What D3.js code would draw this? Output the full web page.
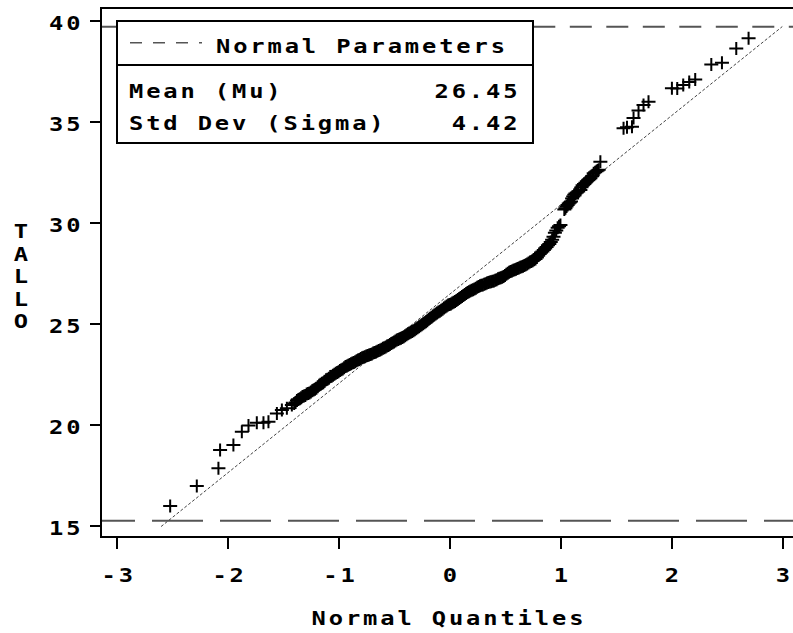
<!DOCTYPE html>
<html>
<head>
<meta charset="utf-8">
<script src="https://d3js.org/d3.v7.min.js"></script>
<style>
	body { margin: 0; background: #fff; }
	text { font-family: "DejaVu Sans Mono", monospace; font-weight: bold; font-size: 19px; letter-spacing: 2.3px; fill: #000; }
</style>
</head>
<body>
<div id="chart"></div>
<script>
// normal quantiles (x)
var quantiles = [
	-2.518, -2.278, -2.083, -2.068, -1.948, -1.872, -1.812, -1.737, -1.677, -1.632,
	-1.556, -1.511, -1.466, -1.421,
	-1.4000, -1.3875, -1.3750, -1.3625, -1.3500, -1.3375, -1.3250, -1.3125,
	-1.3000, -1.2875, -1.2750, -1.2625, -1.2500, -1.2375, -1.2250, -1.2125,
	-1.2000, -1.1875, -1.1750, -1.1625, -1.1500, -1.1375, -1.1250, -1.1125,
	-1.1000, -1.0875, -1.0750, -1.0625, -1.0500, -1.0375, -1.0250, -1.0125,
	-1.0000, -0.9875, -0.9750, -0.9625, -0.9500, -0.9375, -0.9250, -0.9125,
	-0.9000, -0.8875, -0.8750, -0.8625, -0.8500, -0.8375, -0.8250, -0.8125,
	-0.8000, -0.7875, -0.7750, -0.7625, -0.7500, -0.7375, -0.7250, -0.7125,
	-0.7000, -0.6875, -0.6750, -0.6625, -0.6500, -0.6375, -0.6250, -0.6125,
	-0.6000, -0.5875, -0.5750, -0.5625, -0.5500, -0.5375, -0.5250, -0.5125,
	-0.5000, -0.4875, -0.4750, -0.4625, -0.4500, -0.4375, -0.4250, -0.4125,
	-0.4000, -0.3875, -0.3750, -0.3625, -0.3500, -0.3375, -0.3250, -0.3125,
	-0.3000, -0.2875, -0.2750, -0.2625, -0.2500, -0.2375, -0.2250, -0.2125,
	-0.2000, -0.1875, -0.1750, -0.1625, -0.1500, -0.1375, -0.1250, -0.1125,
	-0.1000, -0.0875, -0.0750, -0.0625, -0.0500, -0.0375, -0.0250, -0.0125,
	0.0000, 0.0125, 0.0250, 0.0375, 0.0500, 0.0625, 0.0750, 0.0875,
	0.1000, 0.1125, 0.1250, 0.1375, 0.1500, 0.1625, 0.1750, 0.1875,
	0.2000, 0.2125, 0.2250, 0.2375, 0.2500, 0.2625, 0.2750, 0.2875,
	0.3000, 0.3125, 0.3250, 0.3375, 0.3500, 0.3625, 0.3750, 0.3875,
	0.4000, 0.4125, 0.4250, 0.4375, 0.4500, 0.4625, 0.4750, 0.4875,
	0.5000, 0.5125, 0.5250, 0.5375, 0.5500, 0.5625, 0.5750, 0.5875,
	0.6000, 0.6125, 0.6250, 0.6375, 0.6500, 0.6625, 0.6750, 0.6875,
	0.7000, 0.7125, 0.7250, 0.7375, 0.7500, 0.7625, 0.7750, 0.7875,
	0.8000, 0.8125, 0.8250, 0.8375, 0.8500, 0.8625, 0.8750, 0.8875,
	0.9000, 0.9125, 0.9250, 0.9375, 0.9500, 0.9625, 0.9750, 0.9875,
	1.0000,
	1.035, 1.045, 1.055, 1.065, 1.075, 1.085, 1.095, 1.105, 1.115, 1.125,
	1.135, 1.148, 1.160, 1.180, 1.190, 1.200, 1.213, 1.225, 1.238, 1.250,
	1.260, 1.270, 1.285, 1.300, 1.313, 1.325, 1.335, 1.345, 1.360,
	1.569, 1.600, 1.645, 1.659, 1.704, 1.749, 1.794, 2.005, 2.053, 2.107,
	2.161, 2.215, 2.360, 2.456, 2.585, 2.696
];

// TALLO values (y)
var tallo = [
	15.98, 16.97, 17.84, 18.75, 19.00, 19.65, 19.96, 20.10, 20.10, 20.15,
	20.56, 20.73, 20.81, 20.98,
	21.05, 21.10, 21.20, 21.25, 21.28, 21.33, 21.40, 21.42,
	21.45, 21.52, 21.55, 21.57, 21.62, 21.68, 21.72, 21.75,
	21.80, 21.88, 21.95, 22.00, 22.05, 22.08, 22.15, 22.22,
	22.25, 22.30, 22.38, 22.40, 22.45, 22.50, 22.55, 22.58,
	22.62, 22.68, 22.72, 22.76, 22.82, 22.88, 22.91, 22.94,
	22.98, 23.02, 23.05, 23.08, 23.12, 23.17, 23.20, 23.23,
	23.28, 23.31, 23.34, 23.37, 23.40, 23.42, 23.45, 23.48,
	23.50, 23.55, 23.58, 23.60, 23.64, 23.67, 23.70, 23.74,
	23.78, 23.81, 23.85, 23.89, 23.92, 23.97, 24.02, 24.06,
	24.10, 24.14, 24.19, 24.22, 24.25, 24.28, 24.32, 24.36,
	24.40, 24.45, 24.50, 24.54, 24.58, 24.62, 24.65, 24.70,
	24.75, 24.80, 24.85, 24.90, 24.95, 25.00, 25.05, 25.10,
	25.15, 25.22, 25.27, 25.32, 25.38, 25.43, 25.48, 25.53,
	25.58, 25.62, 25.67, 25.72, 25.78, 25.83, 25.88, 25.92,
	25.95, 25.98, 26.02, 26.06, 26.10, 26.15, 26.20, 26.25,
	26.30, 26.35, 26.40, 26.45, 26.50, 26.54, 26.58, 26.62,
	26.65, 26.68, 26.72, 26.76, 26.80, 26.84, 26.88, 26.90,
	26.92, 26.95, 26.98, 27.01, 27.04, 27.06, 27.08, 27.10,
	27.12, 27.15, 27.18, 27.22, 27.25, 27.27, 27.30, 27.34,
	27.38, 27.45, 27.50, 27.55, 27.58, 27.61, 27.64, 27.67,
	27.70, 27.73, 27.76, 27.79, 27.82, 27.85, 27.88, 27.92,
	27.95, 28.00, 28.05, 28.08, 28.12, 28.16, 28.20, 28.28,
	28.38, 28.45, 28.52, 28.58, 28.65, 28.72, 28.80, 28.88,
	28.95, 29.05, 29.15, 29.30, 29.50, 29.62, 29.75, 29.82,
	29.88,
	30.65, 30.72, 30.80, 30.88, 30.95, 31.00, 31.05, 31.20, 31.30, 31.38,
	31.45, 31.50, 31.55, 31.62, 31.75, 31.85, 31.92, 31.98, 32.05, 32.10,
	32.15, 32.20, 32.30, 32.45, 32.50, 32.55, 32.58, 32.62, 33.02,
	34.67, 34.72, 34.75, 35.18, 35.55, 35.83, 35.99, 36.65, 36.64, 36.82,
	36.97, 37.09, 37.83, 37.92, 38.62, 39.13
];

// tick labels
var xTicks = [-3, -2, -1, 0, 1, 2, 3];
var yTicks = [15, 20, 25, 30, 35, 40];

// fitted normal parameters and reference lines
var mu = 26.45;
var sigma = 4.42;
var refQuantiles = [-2.6, 3.0];
var hLines = [15.25, 39.7];
var legendRows = [["Mean (Mu)", "26.45"], ["Std Dev (Sigma)", "4.42"]];

var sx = 1.25; //the old sas font is wider than dejavu mono, stretch it
var ls = 2.3 * sx; //trailing letter spacing on screen

//put a text at tx,ty and stretch it sideways
function place(sel, tx, ty) {
	sel.attr("x", 0).attr("y", 0).attr("dy", 0)
		.attr("transform", function(d, i) {
			var px = typeof tx === "function" ? tx(d, i) : tx;
			var py = typeof ty === "function" ? ty(d, i) : ty;
			return "translate(" + px + "," + py + ") scale(" + sx + ",1)";
		});
}

function drawChart() {
	var width = 793;
	var height = 633;

	var svg = d3.select("#chart").append("svg")
		.attr("width", width)
		.attr("height", height);

	var x = d3.scaleLinear().domain([-3, 3]).range([116.7, 782.3]);
	var y = d3.scaleLinear().domain([15, 40]).range([525.7, 20.7]);

	var frameLeft = 101;
	var frameTop = 8.3;
	var frameBottom = 537.3;

	//horizontal dashed lines
	svg.append("line")
		.attr("x1", frameLeft).attr("x2", width)
		.attr("y1", y(hLines[0])).attr("y2", y(hLines[0]))
		.style("stroke", "#555").style("stroke-width", 2)
		.style("stroke-dasharray", "51 17").style("stroke-dashoffset", 17);

	svg.append("line")
		.attr("x1", frameLeft).attr("x2", width)
		.attr("y1", y(hLines[1])).attr("y2", y(hLines[1]))
		.style("stroke", "#555").style("stroke-width", 2)
		.style("stroke-dasharray", "22 14.5").style("stroke-dashoffset", 5.7);

	//fitted reference line
	svg.append("line")
		.attr("x1", x(refQuantiles[0])).attr("y1", y(mu + sigma * refQuantiles[0]))
		.attr("x2", x(refQuantiles[1])).attr("y2", y(mu + sigma * refQuantiles[1]))
		.style("stroke", "#444").style("stroke-width", 1)
		.style("stroke-dasharray", "3 2");

	//plus markers
	svg.append("g").selectAll("path")
		.data(quantiles)
		.enter().append("path")
		.attr("transform", function(d, i) { return "translate(" + x(d) + "," + y(tallo[i]) + ")"; })
		.attr("d", "M-7,0H7M0,-6.5V6.5")
		.style("stroke", "#000")
		.style("stroke-width", 2)
		.style("fill", "none");

	//legend box
	var legend = svg.append("g");
	legend.append("rect")
		.attr("x", 116.7).attr("y", 20.7)
		.attr("width", 416).attr("height", 122.6)
		.style("fill", "#fff").style("stroke", "#000").style("stroke-width", 2)
		.attr("shape-rendering", "crispEdges");
	legend.append("line")
		.attr("x1", 116.7).attr("x2", 532.7)
		.attr("y1", 64.7).attr("y2", 64.7)
		.style("stroke", "#000").style("stroke-width", 2)
		.attr("shape-rendering", "crispEdges");
	legend.append("line")
		.attr("x1", 130).attr("x2", 202)
		.attr("y1", 42.7).attr("y2", 42.7)
		.style("stroke", "#555").style("stroke-width", 1.5)
		.style("stroke-dasharray", "12 11");
	place(legend.append("text").text("Normal Parameters"), 216, 53.3);
	place(legend.selectAll(".lab")
		.data(legendRows)
		.enter().append("text")
		.text(function(d) { return d[0]; }),
		129, function(d, i) { return 98 + i * 32; });
	place(legend.selectAll(".val")
		.data(legendRows)
		.enter().append("text")
		.attr("text-anchor", "end")
		.text(function(d) { return d[1]; }),
		517.5 + ls, function(d, i) { return 98 + i * 32; });

	//frame
	svg.append("rect")
		.attr("x", frameLeft).attr("y", frameTop)
		.attr("width", 800).attr("height", frameBottom - frameTop)
		.style("fill", "none").style("stroke", "#000").style("stroke-width", 2)
		.attr("shape-rendering", "crispEdges");

	//y axis
	var yAxis = svg.append("g")
		.attr("transform", "translate(" + frameLeft + ",0)")
		.call(d3.axisLeft(y).tickValues(yTicks).tickSize(11).tickFormat(function(d) { return String(d); }));
	yAxis.select(".domain").remove();
	yAxis.selectAll("line").style("stroke", "#000").style("stroke-width", 2).attr("shape-rendering", "crispEdges");
	place(yAxis.selectAll("text"), -20.5 + ls, 9);

	//x axis
	var xAxis = svg.append("g")
		.attr("transform", "translate(0," + frameBottom + ")")
		.call(d3.axisBottom(x).tickValues(xTicks).tickSize(12).tickFormat(function(d) { return String(d); }));
	xAxis.select(".domain").remove();
	xAxis.selectAll("line").style("stroke", "#000").style("stroke-width", 2).attr("shape-rendering", "crispEdges");
	place(xAxis.selectAll("text"), ls / 2, 44.4);

	//d3 axis sets font on the group, clear it so the css font applies
	yAxis.attr("font-size", null).attr("font-family", null);
	xAxis.attr("font-size", null).attr("font-family", null);

	//axis titles
	place(svg.append("text")
		.attr("text-anchor", "middle")
		.text("Normal Quantiles"), 447.5 + ls / 2, 625);

	var yLabel = "TALLO".split("");
	place(svg.selectAll(".ylab")
		.data(yLabel)
		.enter().append("text")
		.attr("text-anchor", "middle")
		.text(function(d) { return d; }),
		21 + ls / 2, function(d, i) { return 238 + i * 22.5; });
}

drawChart();
</script>
</body>
</html>
